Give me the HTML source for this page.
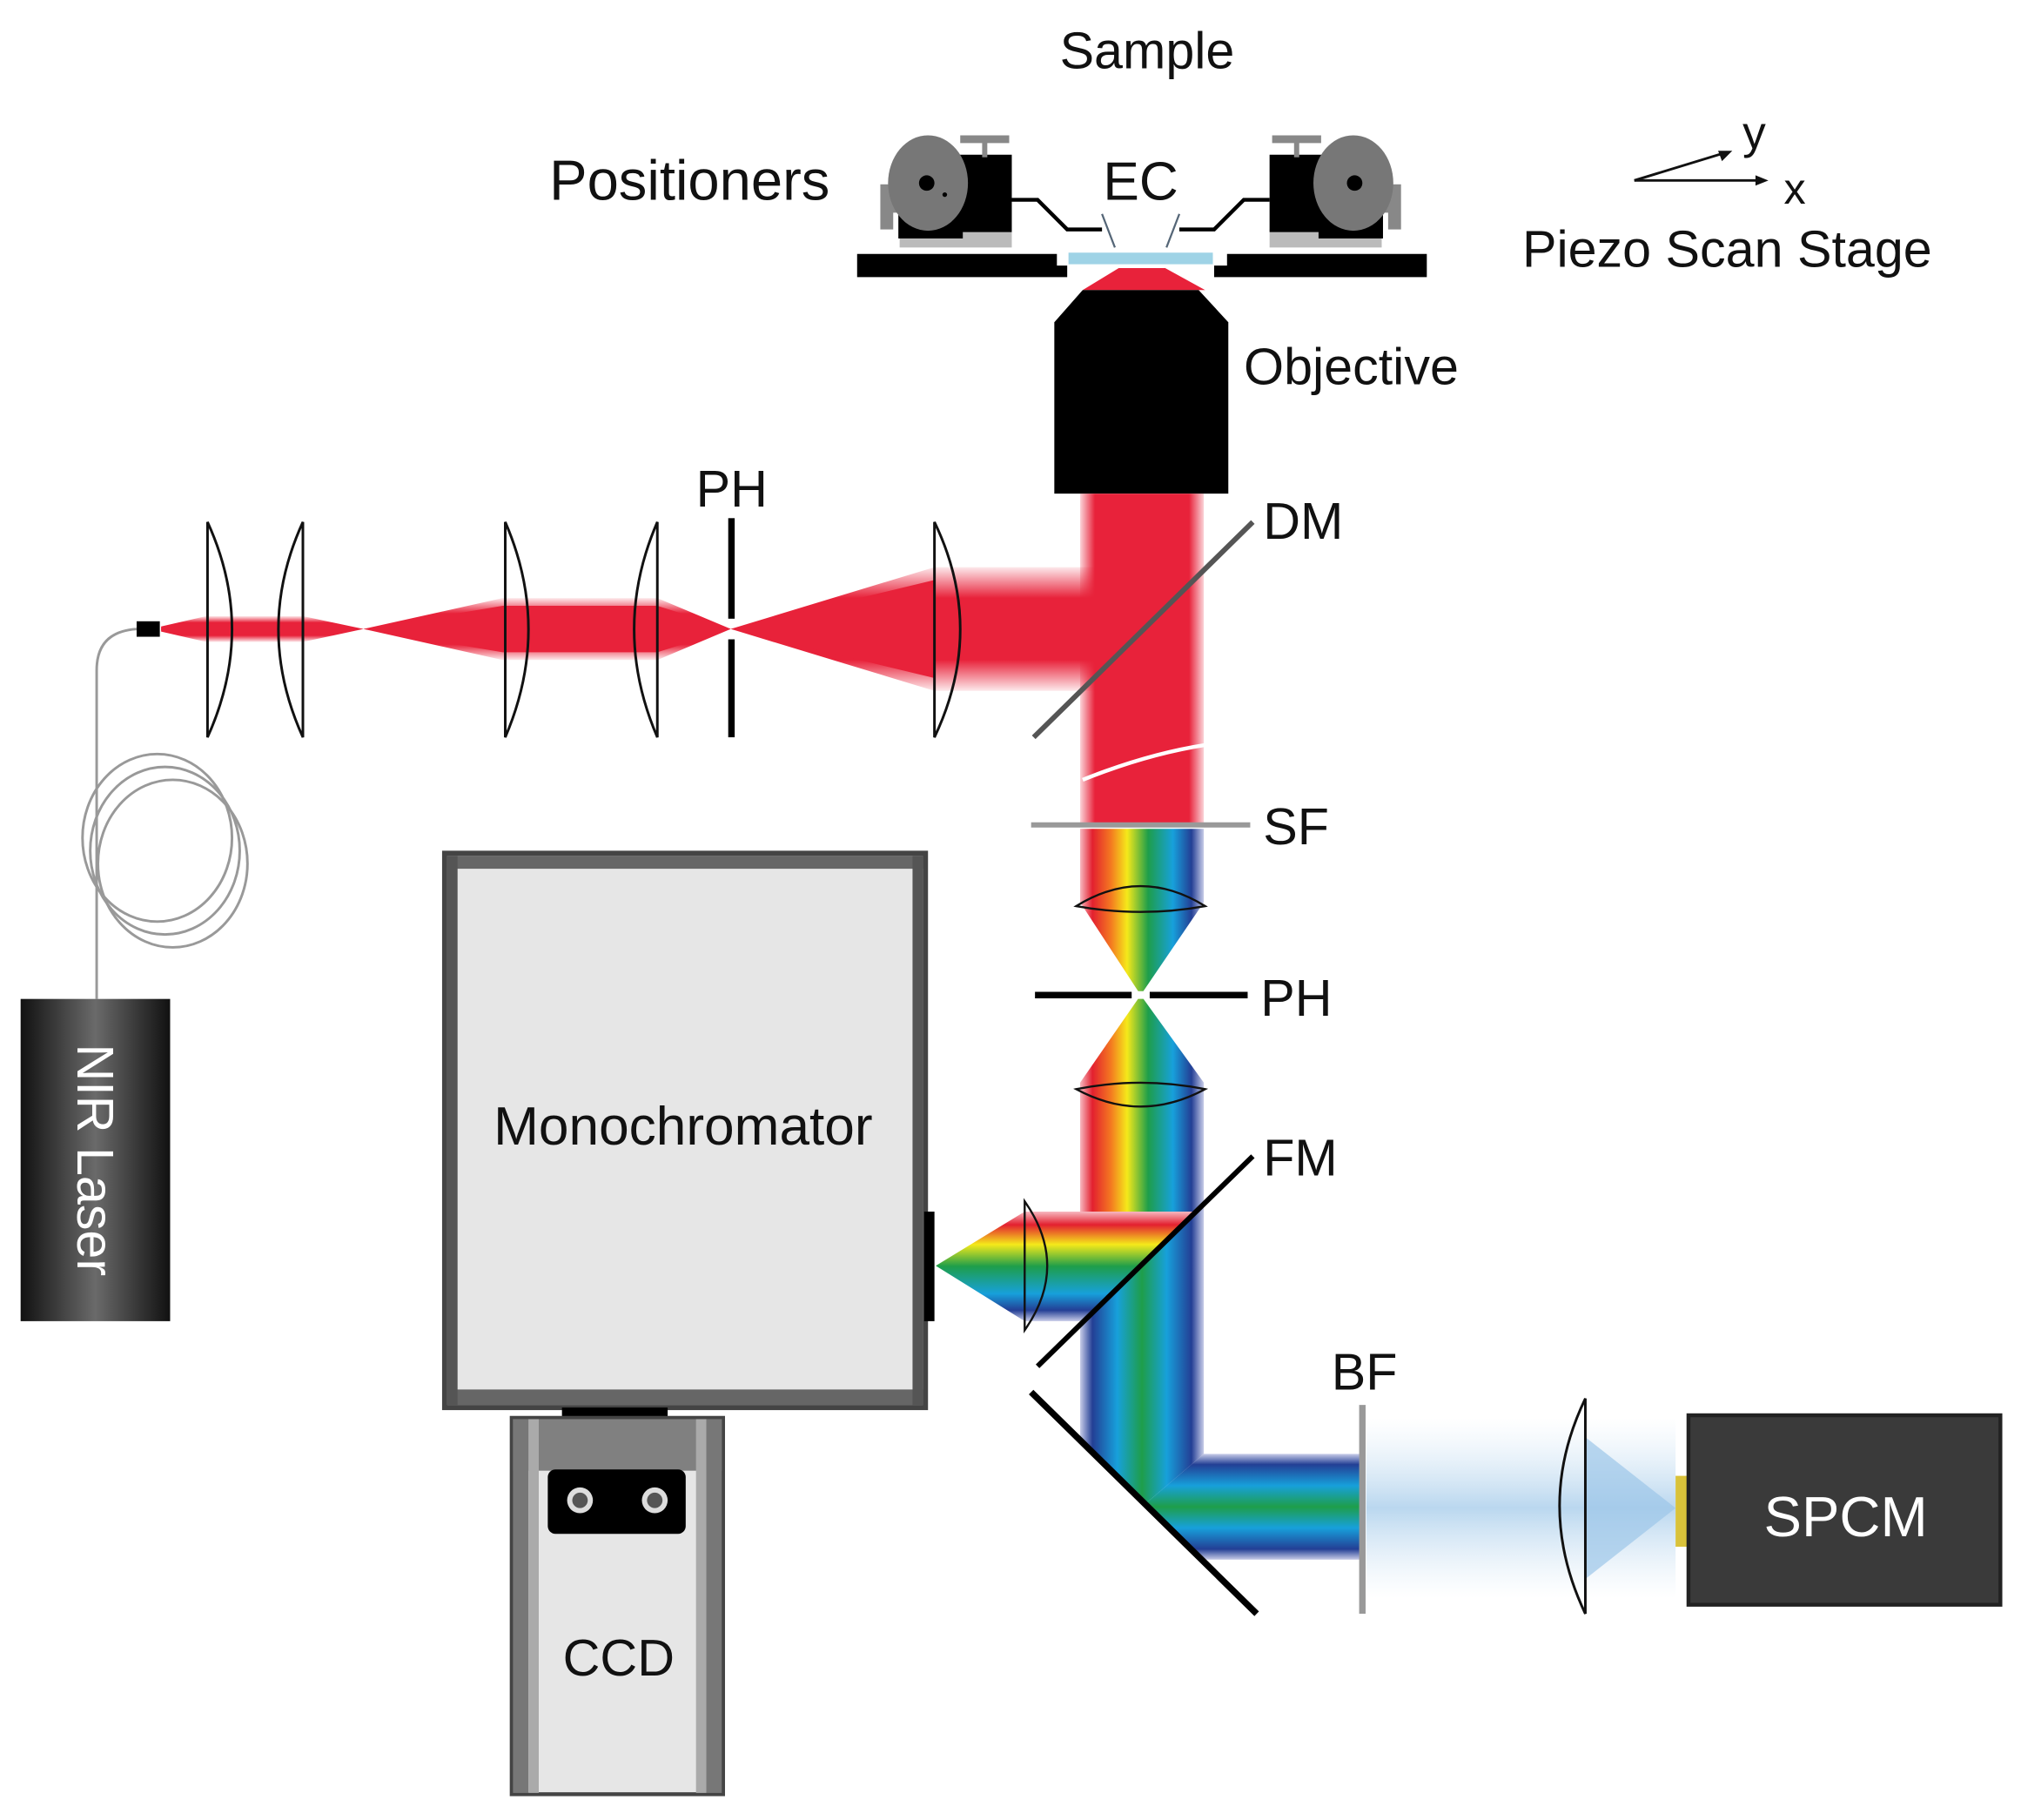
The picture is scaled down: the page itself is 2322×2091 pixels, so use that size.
<!DOCTYPE html>
<html><head><meta charset="utf-8"><style>html,body{margin:0;padding:0;background:#fff}svg{display:block}text{font-family:"Liberation Sans",sans-serif;fill:#111}</style></head><body>
<svg width="2322" height="2091" viewBox="0 0 1568 1412" xmlns="http://www.w3.org/2000/svg">
<defs>
<linearGradient id="redV" x1="0" y1="0" x2="1" y2="0"><stop offset="0" stop-color="#e8223a" stop-opacity="0.2"/><stop offset="0.12" stop-color="#e8223a"/><stop offset="0.88" stop-color="#e8223a"/><stop offset="1" stop-color="#e8223a" stop-opacity="0.2"/></linearGradient>
<linearGradient id="redH" x1="0" y1="0" x2="0" y2="1"><stop offset="0" stop-color="#e8223a" stop-opacity="0.1"/><stop offset="0.25" stop-color="#e8223a"/><stop offset="0.75" stop-color="#e8223a"/><stop offset="1" stop-color="#e8223a" stop-opacity="0.1"/></linearGradient>
<linearGradient id="rbV" x1="0" y1="0" x2="1" y2="0"><stop offset="0" stop-color="#f7b8c0"/><stop offset="0.1" stop-color="#e3202f"/><stop offset="0.25" stop-color="#f47a20"/><stop offset="0.38" stop-color="#f5e91a"/><stop offset="0.55" stop-color="#1e9e4a"/><stop offset="0.75" stop-color="#17a0db"/><stop offset="0.9" stop-color="#233f95"/><stop offset="1" stop-color="#c8cce8"/></linearGradient>
<linearGradient id="rbH" x1="0" y1="0" x2="0" y2="1"><stop offset="0" stop-color="#f7b8c0"/><stop offset="0.12" stop-color="#e3202f"/><stop offset="0.3" stop-color="#f5e91a"/><stop offset="0.5" stop-color="#1e9e4a"/><stop offset="0.75" stop-color="#17a0db"/><stop offset="0.9" stop-color="#233f95"/><stop offset="1" stop-color="#c8cce8"/></linearGradient>
<linearGradient id="blV" x1="0" y1="0" x2="1" y2="0"><stop offset="0" stop-color="#c8cce8"/><stop offset="0.1" stop-color="#233f95"/><stop offset="0.3" stop-color="#17a0db"/><stop offset="0.5" stop-color="#1e9e4a"/><stop offset="0.7" stop-color="#17a0db"/><stop offset="0.9" stop-color="#233f95"/><stop offset="1" stop-color="#c8cce8"/></linearGradient>
<linearGradient id="blH" x1="0" y1="0" x2="0" y2="1"><stop offset="0" stop-color="#c8cce8"/><stop offset="0.1" stop-color="#233f95"/><stop offset="0.3" stop-color="#17a0db"/><stop offset="0.5" stop-color="#1e9e4a"/><stop offset="0.7" stop-color="#17a0db"/><stop offset="0.9" stop-color="#233f95"/><stop offset="1" stop-color="#c8cce8"/></linearGradient>
<linearGradient id="haze" x1="0" y1="0" x2="0" y2="1"><stop offset="0" stop-color="#cfe3f3" stop-opacity="0"/><stop offset="0.5" stop-color="#9cc6e8"/><stop offset="1" stop-color="#cfe3f3" stop-opacity="0"/></linearGradient>
<linearGradient id="laser" x1="0" y1="0" x2="1" y2="0"><stop offset="0" stop-color="#111"/><stop offset="0.5" stop-color="#6a6a6a"/><stop offset="1" stop-color="#111"/></linearGradient>
</defs>

<text x="890" y="53" font-size="40" text-anchor="middle">Sample</text>
<text x="535" y="155" font-size="44" text-anchor="middle">Positioners</text>
<text x="885" y="155" font-size="42" text-anchor="middle">EC</text>
<text x="1340" y="207" font-size="40" text-anchor="middle">Piezo Scan Stage</text>
<text x="1352" y="115" font-size="36">y</text>
<text x="1384" y="158" font-size="34">x</text>
<line x1="1268" y1="140" x2="1368" y2="140" stroke="#111" stroke-width="2"/>
<polygon points="1372,140 1362,136 1362,144" fill="#111"/>
<line x1="1268" y1="140" x2="1340" y2="118" stroke="#111" stroke-width="2"/>
<polygon points="1344,117 1333,117 1336,125" fill="#111"/>

<g>
<rect x="698" y="178" width="87" height="14" fill="#bbb"/>
<rect x="683" y="143" width="10" height="35" fill="#888"/>
<rect x="690" y="155" width="40" height="10" fill="#888"/>
<rect x="697" y="140" width="50" height="45" fill="#000"/>
<path d="M733,120 L785,120 L785,180 L733,180 Z" fill="#000"/>
<rect x="745" y="105" width="38" height="6" fill="#888"/><rect x="762" y="108" width="4" height="14" fill="#888"/>
<ellipse cx="720" cy="142" rx="31" ry="37" fill="#777"/>
<circle cx="719" cy="142" r="6" fill="#000"/><circle cx="733" cy="151" r="1.8" fill="#000"/>
<path d="M785,155 L805,155 L828,178 L855,178" stroke="#000" stroke-width="3" fill="none"/>
<line x1="855" y1="166" x2="865" y2="192" stroke="#567" stroke-width="1.5"/>
</g>
<g transform="translate(1770,0) scale(-1,1)">
<rect x="698" y="178" width="87" height="14" fill="#bbb"/>
<rect x="683" y="143" width="10" height="35" fill="#888"/>
<rect x="690" y="155" width="40" height="10" fill="#888"/>
<rect x="697" y="140" width="50" height="45" fill="#000"/>
<path d="M733,120 L785,120 L785,180 L733,180 Z" fill="#000"/>
<rect x="745" y="105" width="38" height="6" fill="#888"/><rect x="762" y="108" width="4" height="14" fill="#888"/>
<ellipse cx="720" cy="142" rx="31" ry="37" fill="#777"/>
<circle cx="719" cy="142" r="6" fill="#000"/>
<path d="M785,155 L805,155 L828,178 L855,178" stroke="#000" stroke-width="3" fill="none"/>
<line x1="855" y1="166" x2="865" y2="192" stroke="#567" stroke-width="1.5"/>
</g>
<path d="M665,197 L820,197 L820,206 L828,206 L828,215 L665,215 Z" fill="#000"/>
<path d="M1107,197 L952,197 L952,206 L942,206 L942,215 L1107,215 Z" fill="#000"/>
<rect x="829" y="196" width="112" height="9" fill="#9fd3e6"/>
<polygon points="868,208 904,208 935,225 840,225" fill="#e8223a"/>
<polygon points="840,225 930,225 953,250 953,383 818,383 818,250" fill="#000"/>
<text x="965" y="298" font-size="40">Objective</text>

<rect x="838" y="383" width="96" height="258" fill="url(#redV)"/>
<polygon points="125,486 160,478 235,478 282,488 235,498 160,498 125,490" fill="url(#redH)"/>
<polygon points="125,487 160,483 235,483 282,488 235,493 160,493 125,489" fill="#e8223a"/>
<polygon points="282,488 390,464 510,464 567,488 510,512 390,512" fill="url(#redH)"/>
<polygon points="282,488 390,470 510,470 567,488 510,506 390,506" fill="#e8223a"/>
<polygon points="567,488 725,440 725,536" fill="url(#redH)"/>
<polygon points="567,488 725,450 725,526" fill="#e8223a"/>
<rect x="725" y="440" width="160" height="96" fill="url(#redH)"/>
<path d="M840,605 Q890,585 935,578" stroke="#fff" stroke-width="3" fill="none"/>
<line x1="802" y1="572" x2="972" y2="405" stroke="#555" stroke-width="4"/>
<text x="980" y="418" font-size="40">DM</text>

<g stroke="#111" stroke-width="2" fill="none">
<path d="M161,405 Q199,488 161,572 Z"/>
<path d="M235,405 Q197,488 235,572 Z"/>
<path d="M392,405 Q428,488 392,572 Z"/>
<path d="M510,405 Q474,488 510,572 Z"/>
<path d="M725,405 Q765,488 725,572 Z"/>
</g>
<rect x="565" y="402" width="5" height="78" fill="#000"/>
<rect x="565" y="496" width="5" height="76" fill="#000"/>
<text x="540" y="393" font-size="40">PH</text>

<rect x="106" y="482" width="18" height="12" fill="#000"/>
<path d="M106,488 Q75,490 75,520 L75,775" stroke="#999" stroke-width="2" fill="none"/>
<g stroke="#999" stroke-width="2" fill="none">
<ellipse cx="122" cy="650" rx="58" ry="65"/><ellipse cx="128" cy="660" rx="58" ry="65"/><ellipse cx="134" cy="670" rx="58" ry="65"/>
</g>
<rect x="16" y="775" width="116" height="250" fill="url(#laser)"/>
<text transform="translate(60,900) rotate(90)" x="0" y="0" font-size="40" text-anchor="middle" style="fill:#fff">NIR Laser</text>

<line x1="800" y1="640" x2="970" y2="640" stroke="#999" stroke-width="4"/>
<text x="980" y="655" font-size="40">SF</text>
<polygon points="838,643 934,643 934,700 885,772 838,700" fill="url(#rbV)"/>
<polygon points="885,772 934,840 934,935 838,1025 838,840" fill="url(#rbV)"/>
<!-- left branch -->
<polygon points="795,940 838,940 928,940 841,1025 795,1025" fill="url(#rbH)"/>
<polygon points="726,982 795,940 795,1025" fill="url(#rbH)"/>
<!-- transmitted blue column -->
<polygon points="934,935 934,1128 838,1210 838,1025" fill="url(#blV)"/>
<polygon points="934,1128 1057,1128 1057,1210 838,1210" fill="url(#blH)"/>
<polygon points="800,1080 975,1252 975,1270 790,1270 790,1080" fill="#fff"/>
<g stroke="#111" stroke-width="1.6" fill="none">
<path d="M835,703 Q885,672 935,703 Q885,712 835,703 Z"/>
<path d="M835,845 Q885,835 935,845 Q885,872 835,845 Z"/>
<path d="M795,932 Q830,982 795,1032 Z"/>
</g>
<line x1="803" y1="772" x2="968" y2="772" stroke="#000" stroke-width="5"/>
<line x1="878" y1="772" x2="892" y2="772" stroke="#fff" stroke-width="6"/>
<text x="978" y="788" font-size="40">PH</text>
<line x1="805" y1="1060" x2="972" y2="897" stroke="#000" stroke-width="4"/>
<text x="980" y="912" font-size="40">FM</text>
<line x1="800" y1="1080" x2="975" y2="1252" stroke="#000" stroke-width="5"/>
<text x="1033" y="1078" font-size="40">BF</text>
<rect x="1060" y="1100" width="240" height="140" fill="url(#haze)" opacity="0.7"/>
<polygon points="1230,1115 1300,1170 1230,1225" fill="#9cc6e8" opacity="0.7"/>
<line x1="1057" y1="1090" x2="1057" y2="1252" stroke="#999" stroke-width="5"/>
<path d="M1230,1085 Q1190,1168 1230,1252 Z" stroke="#111" stroke-width="2" fill="none"/>
<rect x="1300" y="1145" width="12" height="55" fill="#d9c23a"/>
<rect x="1310" y="1098" width="242" height="147" fill="#3a3a3a"/>
<rect x="1310" y="1098" width="242" height="147" fill="none" stroke="#222" stroke-width="3"/>
<text x="1432" y="1192" font-size="44" text-anchor="middle" style="fill:#fff">SPCM</text>

<rect x="345" y="662" width="373" height="430" fill="#e6e6e6" stroke="#444" stroke-width="4"/>
<rect x="347" y="664" width="369" height="10" fill="#666"/>
<rect x="347" y="1078" width="369" height="12" fill="#666"/>
<rect x="347" y="664" width="8" height="426" fill="#555"/>
<rect x="708" y="664" width="8" height="426" fill="#555"/>
<rect x="717" y="940" width="8" height="85" fill="#000"/>
<text x="530" y="888" font-size="42" text-anchor="middle">Monochromator</text>
<rect x="436" y="1092" width="82" height="10" fill="#000"/>
<rect x="397" y="1100" width="164" height="292" fill="#e6e6e6" stroke="#444" stroke-width="3"/>
<rect x="398" y="1101" width="162" height="40" fill="#808080"/>
<rect x="398" y="1101" width="12" height="290" fill="#777"/>
<rect x="410" y="1101" width="8" height="290" fill="#aaa"/>
<rect x="548" y="1101" width="12" height="290" fill="#777"/>
<rect x="540" y="1101" width="8" height="290" fill="#aaa"/>
<rect x="425" y="1140" width="107" height="50" rx="6" fill="#000"/>
<circle cx="450" cy="1164" r="10" fill="#ddd"/><circle cx="450" cy="1164" r="6" fill="#555"/>
<circle cx="508" cy="1164" r="10" fill="#ddd"/><circle cx="508" cy="1164" r="6" fill="#555"/>
<text x="480" y="1300" font-size="40" text-anchor="middle">CCD</text>
</svg>
</body></html>
